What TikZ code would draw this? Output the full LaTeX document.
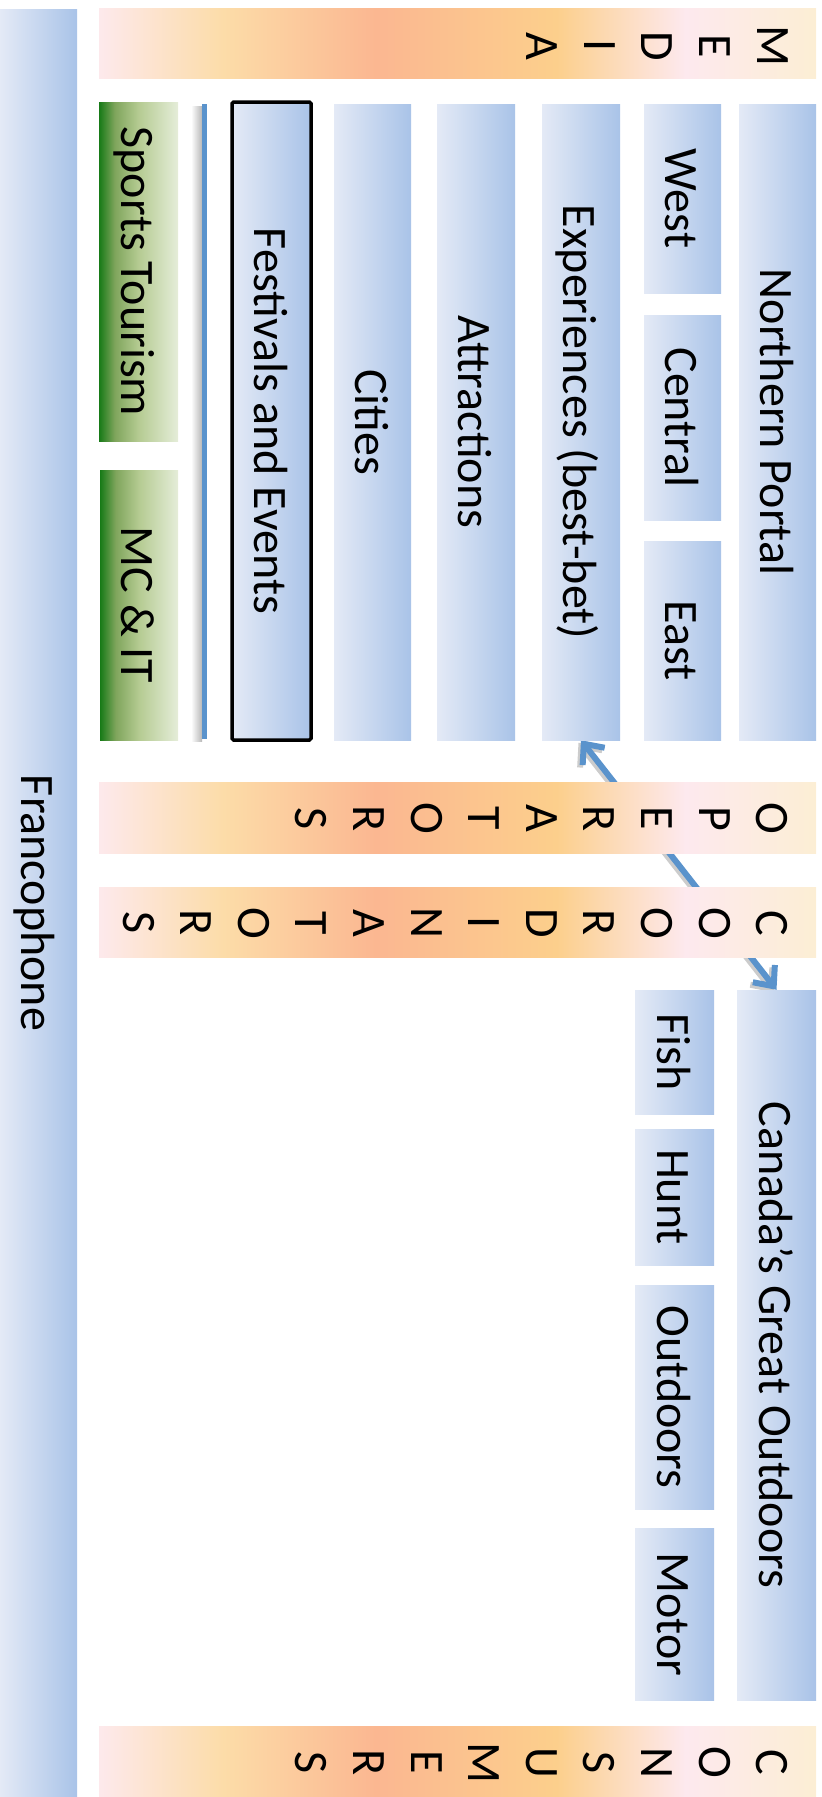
\documentclass[tikz,border=0pt]{standalone}
\usepackage{fontspec}
\setmainfont{Carlito}
\usetikzlibrary{fit,arrows.meta}

% palette
\definecolor{bl}{HTML}{E4EAF6}
\definecolor{bd}{HTML}{A9C3E8}
\definecolor{o0}{HTML}{FDE9EC}
\definecolor{o1}{HTML}{FCDCA8}
\definecolor{o2}{HTML}{FBB791}
\definecolor{o3}{HTML}{FCCF8C}
\definecolor{o4}{HTML}{FDE9EE}
\definecolor{o5}{HTML}{FCEED4}
\definecolor{g0}{HTML}{177A17}
\definecolor{g1}{HTML}{7FA55C}
\definecolor{g2}{HTML}{B5CB92}
\definecolor{g3}{HTML}{E5EDD9}
\definecolor{arrowblue}{HTML}{5A93CC}

% warm band gradient, left to right
\pgfdeclarehorizontalshading{sunset}{100bp}{color(0bp)=(o0); color(25bp)=(o0);
  color(33.7bp)=(o1); color(44.3bp)=(o2); color(56.9bp)=(o3);
  color(65.9bp)=(o4); color(75bp)=(o5); color(100bp)=(o5)}
% green fade, dark on the left
\pgfdeclarehorizontalshading{greenfade}{100bp}{color(0bp)=(g0); color(25bp)=(g0);
  color(35bp)=(g1); color(50bp)=(g2); color(75bp)=(g3); color(100bp)=(g3)}

% the link runs underneath the bands
\pgfdeclarelayer{under}
\pgfsetlayers{under,main}

\begin{document}
\begin{tikzpicture}[x=1pt,y=-1pt,
  bluebox/.style={inner sep=0, draw=none, left color=bl, right color=bd},
  greenbox/.style={inner sep=0, draw=none, shading=greenfade},
  band/.style={inner sep=0, draw=none, shading=sunset},
  framed/.style={bluebox, draw=black, line width=3.5pt, rounded corners=1.5pt},
  txt/.style={rotate=-90, inner sep=0, text height=40.8pt, text depth=6.7pt,
    font=\fontsize{48}{57.6}\selectfont},
  stack/.style={rotate=-90, anchor=north, align=center, inner sep=0,
    font=\fontsize{48}{57.6}\selectfont},
  conn/.style={draw=arrowblue, line width=6pt,
    {Straight Barb[length=16pt,width=28pt]}-{Straight Barb[length=16pt,width=28pt]}}
]
\useasboundingbox (0,0) rectangle (822,1797);

% side column
\node[bluebox, fit={(0,9)(77,1797)}] (franco) {};
\node[txt] (francot) at (franco.center) {Francophone};

% horizontal bands with stacked letters
\node[band, fit={(99,8)(816,78)}] (media) {};
\node[stack] (mediat) at (788,46) {M\\E\\D\\I\\A};
\node[band, fit={(99,782)(816,853)}] (oper) {};
\node[stack] (opert) at (788,818.5) {O\\P\\E\\R\\A\\T\\O\\R\\S};
\node[band, fit={(99,887)(816,957)}] (coord) {};
\node[stack] (coordt) at (788,923) {C\\O\\O\\R\\D\\I\\N\\A\\T\\O\\R\\S};
\node[band, fit={(99,1726)(816,1797)}] (cons) {};
\node[stack] (const) at (788,1762.5) {C\\O\\N\\S\\U\\M\\E\\R\\S};

% upper block
\node[bluebox, fit={(739,104)(816,740)}] (np) {};
\node[txt] (npt) at (np.center) {Northern Portal};
\node[bluebox, fit={(644,104)(721,293)}] (west) {};
\node[txt] (westt) at (west.center) {West};
\node[bluebox, fit={(644,315)(721,520)}] (central) {};
\node[txt] (centralt) at (central.center) {Central};
\node[bluebox, fit={(644,541)(721,740)}] (east) {};
\node[txt] (eastt) at (east.center) {East};
\node[bluebox, fit={(542,104)(620,740)}] (exp) {};
\node[txt] (expt) at (exp.center) {Experiences (best-bet)};
\node[bluebox, fit={(437,104)(515,740)}] (attr) {};
\node[txt] (attrt) at (attr.center) {Attractions};
\node[bluebox, fit={(334,104)(411,740)}] (cities) {};
\node[txt] (citiest) at (cities.center) {Cities};
\node[framed, fit={(232,102)(311,740)}] (fest) {};
\node[txt] (festt) at (fest.center) {Festivals and Events};

% divider rule with its soft shadow
\coordinate (ltop) at (204.5,104);
\coordinate (lbot) at (204.5,739);
\shade[left color=white, right color=black!28] (191,106) rectangle (202,741);
\draw[arrowblue, line width=5pt] (ltop) -- (lbot);

\node[greenbox, fit={(99,102)(178,441)}] (sports) {};
\node[txt] (sportst) at (sports.center) {Sports Tourism};
\node[greenbox, fit={(100,470)(178,740)}] (mcit) {};
\node[txt] (mcitt) at (mcit.center) {MC \& IT};

% lower block
\node[bluebox, fit={(737,990)(816,1700)}] (cgo) {};
\node[txt] (cgot) at (cgo.center) {Canada’s Great Outdoors};
\node[bluebox, fit={(635,990)(714,1114)}] (fish) {};
\node[txt] (fisht) at (fish.center) {Fish};
\node[bluebox, fit={(635,1129)(714,1265)}] (hunt) {};
\node[txt] (huntt) at (hunt.center) {Hunt};
\node[bluebox, fit={(635,1285)(714,1509)}] (outd) {};
\node[txt] (outdt) at (outd.center) {Outdoors};
\node[bluebox, fit={(635,1528)(714,1700)}] (motor) {};
\node[txt] (motort) at (motor.center) {Motor};

% link between the two blocks
\begin{pgfonlayer}{under}
\draw[conn, draw=black, opacity=0.2, transform canvas={shift={(-2.5pt,-2.5pt)}}] (exp.south) -- (cgo.north);
\draw[conn] (exp.south) -- (cgo.north);
\end{pgfonlayer}
\end{tikzpicture}
\end{document}
